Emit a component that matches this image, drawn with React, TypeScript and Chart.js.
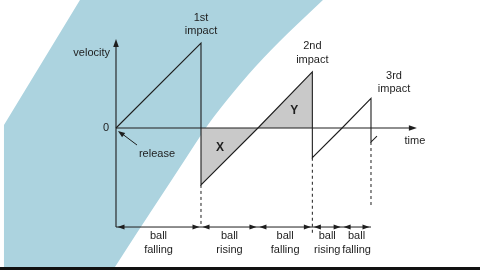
import React, { useEffect, useRef } from "react";
import { Chart, registerables } from "chart.js";

Chart.register(...registerables);

// ---- data (time / velocity in arbitrary units) ----
const motionTimes = [0, 1.0, 1.0, 1.67, 2.31, 2.31, 2.66, 3.0, 3.0, 3.07];
const motionVelocity = [0, 1.0, -0.67, 0, 0.66, -0.35, 0, 0.35, -0.165, -0.095];

const areaTimes = [1.0, 1.67, 2.31];
const areaVelocity = [-0.67, 0, 0.66];
const areaNames = ["X", "Y"];

const impactTimes = [1.0, 2.31, 3.0];
const impactPeaks = [1.0, 0.66, 0.35];
const reboundVelocity = [-0.67, -0.35, -0.165];
const impactNames = ["1st", "2nd", "3rd"];
const guideEnds = [-1.165, -1.26, -0.94];

const phaseBounds = [0, 1.0, 1.67, 2.31, 2.66, 3.0];
const phaseLabels = ["falling", "rising", "falling", "rising", "falling"];
const phaseLevel = -1.165;

const axisTimeEnd = 3.54;
const axisVelocityEnd = 1.047;

// background swoosh outline (data units)
const bgLeftT = [-1.318, -1.318, -0.424];
const bgLeftV = [-1.635, 0.035, 1.506];
const bgRightT = [2.435, 2.224, 2.024, 1.824, 1.635, 1.471, 1.306, 1.176, 1.053, 0.794, 0.524, 0.253, -0.012];
const bgRightV = [1.506, 1.306, 1.118, 0.918, 0.718, 0.529, 0.329, 0.165, 0, -0.4, -0.812, -1.224, -1.635];

const FONT = '11px "Liberation Sans", Arial, sans-serif';
const BOLD = 'bold 12px "Liberation Sans", Arial, sans-serif';
const INK = "#1e1e1e";

function arrowHead(ctx: CanvasRenderingContext2D, x: number, y: number, ang: number, len: number, hw: number) {
  ctx.beginPath();
  ctx.moveTo(x, y);
  ctx.lineTo(x - len * Math.cos(ang) + hw * Math.sin(ang), y - len * Math.sin(ang) - hw * Math.cos(ang));
  ctx.lineTo(x - len * Math.cos(ang) - hw * Math.sin(ang), y - len * Math.sin(ang) + hw * Math.cos(ang));
  ctx.closePath();
  ctx.fill();
}

const diagramPlugin = {
  id: "diagram",
  beforeDatasetsDraw(chart: any) {
    const { ctx, scales } = chart;
    const X = (t: number) => scales.x.getPixelForValue(t);
    const Y = (v: number) => scales.y.getPixelForValue(v);
    ctx.save();
    ctx.fillStyle = "#acd3df";
    ctx.beginPath();
    bgLeftT.forEach((t, i) => (i === 0 ? ctx.moveTo(X(t), Y(bgLeftV[i])) : ctx.lineTo(X(t), Y(bgLeftV[i]))));
    const pts = bgRightT.map((t, i) => [X(t), Y(bgRightV[i])]);
    ctx.lineTo(pts[0][0], pts[0][1]);
    for (let i = 1; i < pts.length - 1; i++) {
      const mx = (pts[i][0] + pts[i + 1][0]) / 2;
      const my = (pts[i][1] + pts[i + 1][1]) / 2;
      ctx.quadraticCurveTo(pts[i][0], pts[i][1], mx, my);
    }
    ctx.lineTo(pts[pts.length - 1][0], pts[pts.length - 1][1]);
    ctx.closePath();
    ctx.fill();
    ctx.restore();
  },
  afterDatasetsDraw(chart: any) {
    const { ctx, scales } = chart;
    const X = (t: number) => scales.x.getPixelForValue(t);
    const Y = (v: number) => scales.y.getPixelForValue(v);
    ctx.save();
    ctx.strokeStyle = INK;
    ctx.fillStyle = INK;
    ctx.lineWidth = 1.1;

    // axes
    const x0 = X(0), y0 = Y(0);
    ctx.beginPath();
    ctx.moveTo(x0, Y(phaseLevel));
    ctx.lineTo(x0, Y(axisVelocityEnd) + 4);
    ctx.moveTo(x0, y0);
    ctx.lineTo(X(axisTimeEnd) - 4, y0);
    ctx.stroke();
    arrowHead(ctx, x0, Y(axisVelocityEnd), -Math.PI / 2, 8, 2.8);
    arrowHead(ctx, X(axisTimeEnd), y0, 0, 8, 2.8);

    // dashed guides
    ctx.setLineDash([3, 3]);
    ctx.lineWidth = 1;
    impactTimes.forEach((t, i) => {
      ctx.beginPath();
      ctx.moveTo(X(t), Y(reboundVelocity[i]));
      ctx.lineTo(X(t), Y(guideEnds[i]));
      ctx.stroke();
    });
    ctx.setLineDash([]);

    // phase dimension line
    const yd = Y(phaseLevel);
    ctx.beginPath();
    ctx.moveTo(X(phaseBounds[0]), yd);
    ctx.lineTo(X(phaseBounds[phaseBounds.length - 1]), yd);
    ctx.stroke();
    ctx.font = FONT;
    ctx.textAlign = "center";
    ctx.textBaseline = "middle";
    for (let i = 0; i < phaseLabels.length; i++) {
      const a = X(phaseBounds[i]) + 1.5, b = X(phaseBounds[i + 1]) - 1.5;
      arrowHead(ctx, a, yd, Math.PI, 7, 2.6);
      arrowHead(ctx, b, yd, 0, 7, 2.6);
      const mx = (X(phaseBounds[i]) + X(phaseBounds[i + 1])) / 2;
      ctx.fillText("ball", mx, yd + 8.5);
      ctx.fillText(phaseLabels[i], mx, yd + 22.5);
    }

    // impact labels
    const offs = [[0, -12], [0, -12], [23, -9]];
    impactTimes.forEach((t, i) => {
      const cx = X(t) + offs[i][0];
      const cy = Y(impactPeaks[i]) + offs[i][1];
      ctx.fillText(impactNames[i], cx, cy - 13.5);
      ctx.fillText("impact", cx, cy);
    });

    // axis labels
    ctx.textAlign = "right";
    ctx.fillText("velocity", x0 - 6, Y(axisVelocityEnd) + 14);
    ctx.fillText("0", x0 - 7, y0);
    ctx.textAlign = "center";
    ctx.fillText("time", X(axisTimeEnd) - 2, y0 + 12.5);

    // release
    ctx.fillText("release", x0 + 41, y0 + 26);
    ctx.lineWidth = 1;
    ctx.beginPath();
    ctx.moveTo(x0 + 21, y0 + 17);
    ctx.lineTo(x0 + 5, y0 + 5);
    ctx.stroke();
    arrowHead(ctx, x0 + 2, y0 + 3, Math.atan2(-14, -19), 7, 2.6);

    // area labels at triangle centroids
    ctx.font = BOLD;
    for (let k = 0; k < 2; k++) {
      const ta = areaTimes[k], tb = areaTimes[k + 1];
      const va = areaVelocity[k], vb = areaVelocity[k + 1];
      const tip = k === 0 ? [ta, va] : [tb, vb];
      const ct = (ta + tb + tip[0]) / 3;
      const cv = tip[1] / 3;
      ctx.fillText(areaNames[k], X(ct), Y(cv) + 1);
    }

    // bottom frame bar
    ctx.fillStyle = "#111";
    ctx.fillRect(0, chart.height - 3, chart.width, 3);
    ctx.restore();
  },
};

export default function App() {
  const ref = useRef<HTMLCanvasElement>(null);
  useEffect(() => {
    const canvas = ref.current!;
    const chart = new Chart(canvas, {
      type: "line",
      data: {
        datasets: [
          {
            data: motionTimes.map((t, i) => ({ x: t, y: motionVelocity[i] })),
            borderColor: INK,
            borderWidth: 1.1,
            pointRadius: 0,
            tension: 0,
            fill: false,
            order: 1,
          },
          {
            data: areaTimes.map((t, i) => ({ x: t, y: areaVelocity[i] })),
            borderWidth: 0,
            borderColor: "rgba(0,0,0,0)",
            backgroundColor: "#c9c9c9",
            pointRadius: 0,
            tension: 0,
            fill: "origin",
            order: 2,
          },
        ],
      },
      options: {
        responsive: false,
        animation: false,
        devicePixelRatio: 1,
        layout: { padding: 0 },
        plugins: { legend: { display: false }, tooltip: { enabled: false } },
        events: [],
        scales: {
          x: { type: "linear", display: false, min: -1.3647, max: 4.2824 },
          y: { type: "linear", display: false, min: -1.6706, max: 1.5059 },
        },
      },
      plugins: [diagramPlugin],
    });
    return () => chart.destroy();
  }, []);
  return (
    <div style={{ position: "absolute", left: 0, top: 0, width: 480, height: 270, background: "#fff" }}>
      <canvas ref={ref} width={480} height={270} style={{ display: "block", width: 480, height: 270 }} />
    </div>
  );
}
